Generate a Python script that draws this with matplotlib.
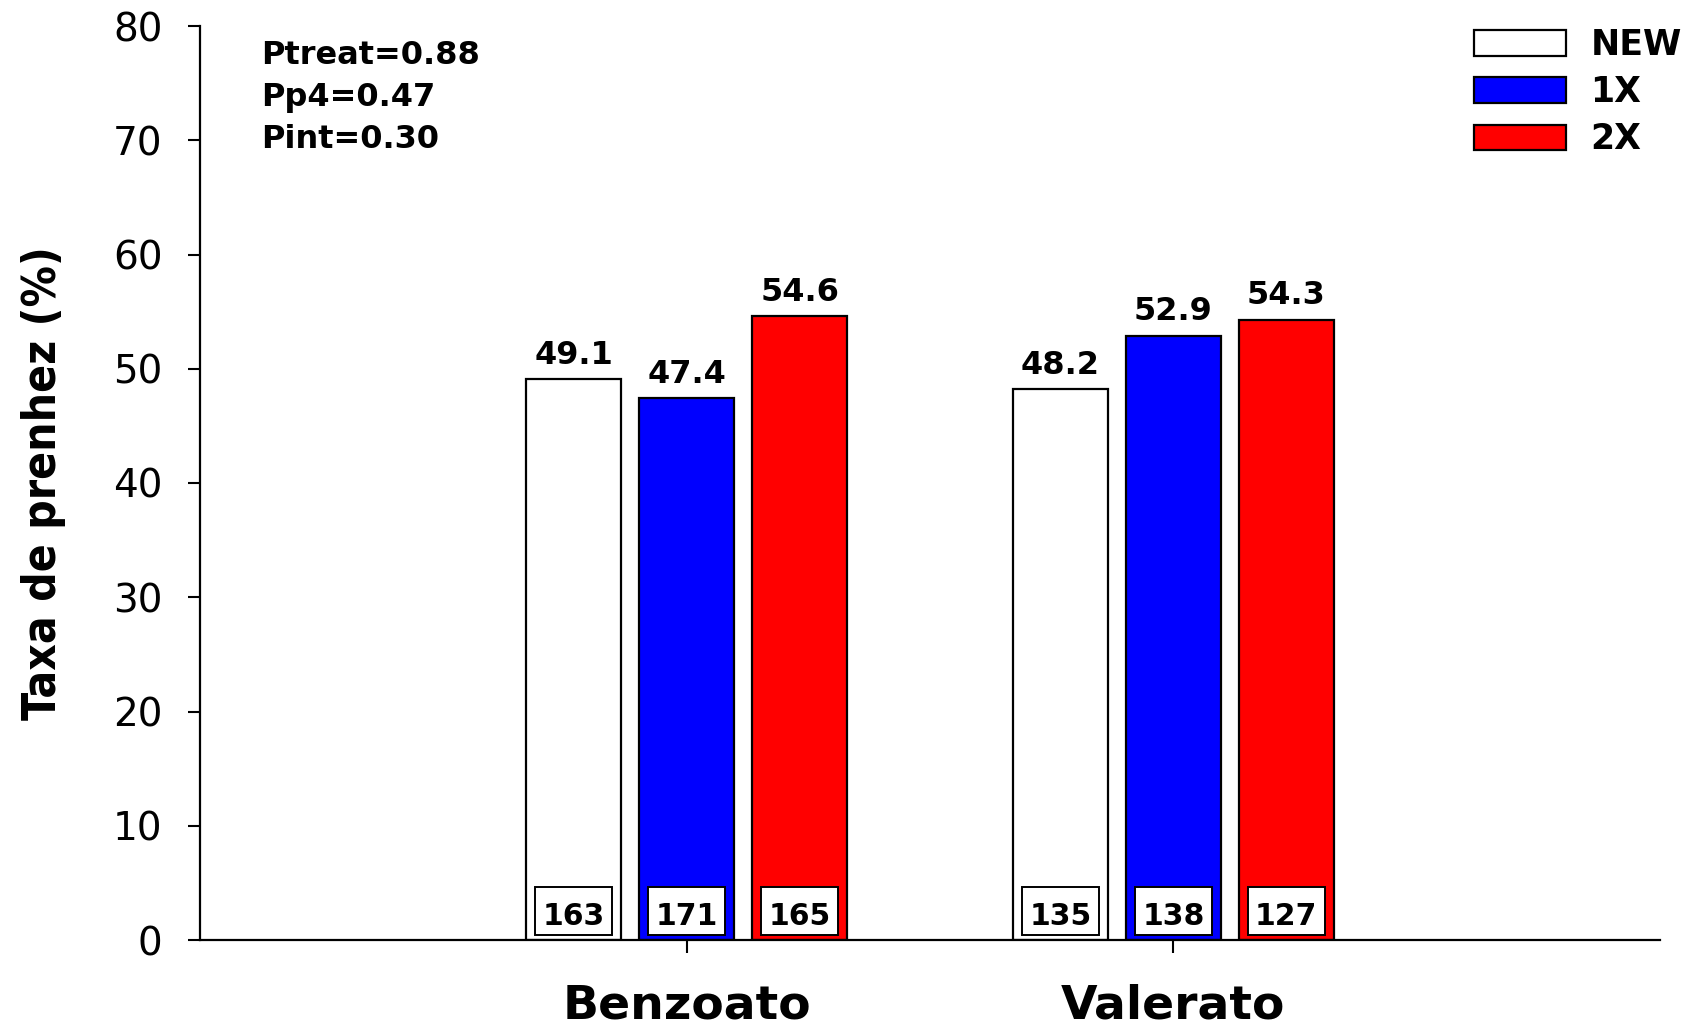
import matplotlib
matplotlib.use("Agg")
import matplotlib.pyplot as plt
from matplotlib.patches import Rectangle
import numpy as np

# data
groups = ["Benzoato", "Valerato"]
series = ["NEW", "1X", "2X"]
colors = ["white", "#0000ff", "#ff0000"]
rates = {
    "NEW": [49.1, 48.2],
    "1X": [47.4, 52.9],
    "2X": [54.6, 54.3],
}
counts = {
    "NEW": [163, 135],
    "1X": [171, 138],
    "2X": [165, 127],
}
pvals = ["Ptreat=0.88", "Pp4=0.47", "Pint=0.30"]

fig = plt.figure(figsize=(16.9, 10.3), dpi=100)
ax = fig.add_axes([200 / 1690, 1 - 940 / 1030, 1460 / 1690, 914 / 1030])

x = np.arange(1, len(groups) + 1)
width = 0.195
step = 0.232

for i, s in enumerate(series):
    xs = x + (i - 1) * step
    ax.bar(xs, rates[s], width=width, color=colors[i], edgecolor="black",
           linewidth=1.6, label=s, zorder=2)
    for xi, v, n in zip(xs, rates[s], counts[s]):
        ax.text(xi, v + 2.1, f"{v:.1f}", ha="center", va="center",
                fontsize=23, fontweight="bold")
        ax.add_patch(Rectangle((xi - 0.079, 0.4), 0.158, 4.25, facecolor="white",
                               edgecolor="black", linewidth=1.4, zorder=3))
        ax.text(xi, 2.05, str(n), ha="center", va="center", fontsize=21.5,
                fontweight="bold", zorder=4)

ax.set_xlim(0, 3)
ax.set_ylim(0, 80)
ax.set_yticks(range(0, 81, 10))
ax.set_xticks(x)
ax.set_xticklabels(groups, fontsize=34, fontweight="bold")
ax.tick_params(axis="y", labelsize=28, length=9, width=1.5, pad=18)
ax.tick_params(axis="x", length=9, width=1.5, pad=22)
for sp in ["top", "right"]:
    ax.spines[sp].set_visible(False)
for sp in ["left", "bottom"]:
    ax.spines[sp].set_linewidth(1.6)

ax.set_ylabel("Taxa de prenhez (%)", fontsize=33, fontweight="bold",
              fontstretch="condensed",
              family=["DejaVu Sans Condensed", "Liberation Sans Narrow", "DejaVu Sans"])
ax.yaxis.set_label_coords(-0.092, 0.5)

fig.text(261 / 1690, 1 - 40 / 1030, "\n".join(pvals), fontsize=23,
         fontweight="bold", va="top", ha="left", linespacing=1.46)

leg = ax.legend(loc="upper left", bbox_to_anchor=(1474 / 1690, 1 - 28 / 1030),
                bbox_transform=fig.transFigure, frameon=False, borderpad=0,
                borderaxespad=0, handlelength=2.65, handleheight=0.75,
                handletextpad=0.7, labelspacing=0.38,
                prop={"size": 25, "weight": "bold"})

fig.savefig("out.png", dpi=100)
